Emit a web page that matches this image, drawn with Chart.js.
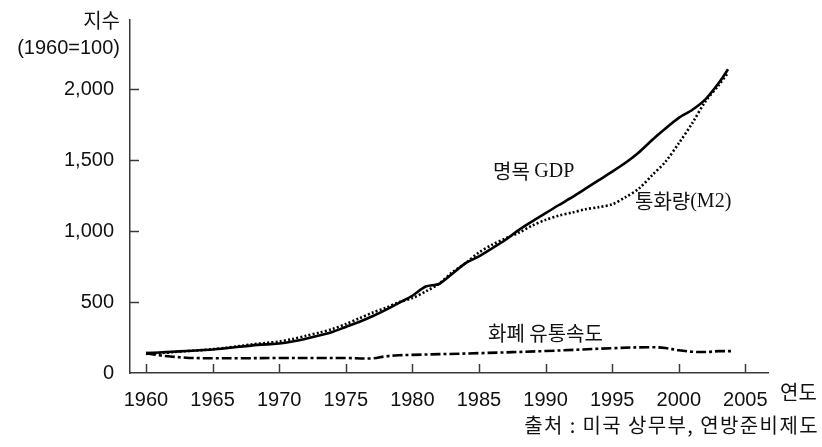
<!DOCTYPE html>
<html>
<head>
<meta charset="utf-8">
<script src="https://cdn.jsdelivr.net/npm/chart.js@4/dist/chart.umd.min.js"></script>
<style>
  body { margin: 0; background: #fff; }
  canvas { display: block; }
</style>
</head>
<body>
<canvas id="chart" width="822" height="447"></canvas>
<script>
// 연도 (GDP, M2 는 2003년 말께 끝남)
const yearsMain = [1960, 1961, 1962, 1963, 1964, 1965, 1966, 1967, 1968, 1969,
  1970, 1971, 1972, 1973, 1974, 1975, 1976, 1977, 1978, 1979,
  1980, 1981, 1982, 1983, 1984, 1985, 1986, 1987, 1988, 1989,
  1990, 1991, 1992, 1993, 1994, 1995, 1996, 1997, 1998, 1999,
  2000, 2001, 2002, 2003, 2003.7];

const gdp = [140, 145, 150, 155, 160, 166, 175, 185, 195, 202,
  208, 222, 242, 265, 290, 325, 360, 400, 445, 495,
  545, 610, 628, 700, 775, 822, 880, 940, 1010, 1070,
  1127, 1185, 1240, 1300, 1360, 1420, 1483, 1556, 1644, 1725,
  1800, 1855, 1930, 2045, 2142];

const m2 = [135, 140, 147, 154, 160, 168, 178, 190, 202, 212,
  222, 240, 262, 285, 310, 345, 385, 425, 460, 500,
  528, 575, 630, 710, 775, 850, 905, 950, 990, 1040,
  1080, 1110, 1132, 1155, 1170, 1190, 1240, 1300, 1395, 1490,
  1620, 1760, 1915, 2030, 2118];

const yearsVel = [1960, 1961, 1962, 1963, 1964, 1965, 1967, 1970, 1973, 1975,
  1977, 1978, 1979, 1980, 1985, 1990, 1995, 1998, 1999, 2000,
  2001, 2002, 2003, 2004.1];

const velocity = [140, 125, 115, 108, 105, 104, 104, 106, 106, 106,
  103, 118, 125, 128, 140, 155, 175, 182, 176, 160,
  150, 148, 154, 154];

const xTicks = [1960, 1965, 1970, 1975, 1980, 1985, 1990, 1995, 2000, 2005];
const yTicks = [0, 500, 1000, 1500, 2000];

const toPoints = (xs, ys) => xs.map((x, i) => ({ x: x, y: ys[i] }));

const AXIS_COLOR = '#3a3a3a';
const LABEL_FONT = { family: '"Liberation Sans", Arial, sans-serif', size: 20 };

// 안쪽으로 향하는 눈금과 주석 텍스트
const decorations = {
  id: 'decorations',
  afterDraw(chart) {
    const ctx = chart.ctx;
    const x = chart.scales.x;
    const y = chart.scales.y;
    const area = chart.chartArea;

    ctx.save();
    ctx.strokeStyle = AXIS_COLOR;
    ctx.lineWidth = 1.5;
    ctx.beginPath();
    xTicks.forEach(v => {
      const px = Math.round(x.getPixelForValue(v)) + 0.5;
      ctx.moveTo(px, area.bottom);
      ctx.lineTo(px, area.bottom - 9);
    });
    yTicks.forEach(v => {
      if (v === 0) return;
      const py = Math.round(y.getPixelForValue(v)) + 0.5;
      ctx.moveTo(area.left, py);
      ctx.lineTo(area.left + 9, py);
    });
    ctx.stroke();

    const kr = '20px "Noto Sans CJK KR", sans-serif';
    const serif = '20px "Liberation Serif", "Times New Roman", serif';
    ctx.fillStyle = '#111';
    ctx.textBaseline = 'middle';

    // 축 제목
    ctx.textAlign = 'right';
    ctx.font = kr;
    ctx.fillText('지수', 120, 20);
    ctx.font = '20px "Liberation Sans", Arial, sans-serif';
    ctx.fillText('(1960=100)', 120, 48);

    ctx.textAlign = 'left';
    ctx.font = kr;
    ctx.fillText('연도', 780, 392);

    // 계열 이름
    ctx.fillText('명목 ', 493, 171);
    let w = ctx.measureText('명목 ').width;
    ctx.font = serif;
    ctx.fillText('GDP', 493 + w, 172);

    ctx.font = kr;
    ctx.fillText('통화량', 635, 201);
    w = ctx.measureText('통화량').width;
    ctx.font = serif;
    ctx.fillText('(M2)', 635 + w, 202);

    ctx.font = kr;
    ctx.fillText('화폐 유통속도', 488, 333);

    // 출처
    ctx.textAlign = 'right';
    ctx.letterSpacing = '1.4px';
    ctx.fillText('출처 : 미국 상무부, 연방준비제도', 819, 425);
    ctx.restore();
  }
};

new Chart(document.getElementById('chart'), {
  type: 'line',
  data: {
    datasets: [
      {
        label: '명목 GDP',
        data: toPoints(yearsMain, gdp),
        borderColor: '#000',
        borderWidth: 2.6,
        tension: 0.25,
        pointRadius: 0
      },
      {
        label: '통화량(M2)',
        data: toPoints(yearsMain, m2),
        borderColor: '#000',
        borderWidth: 2.6,
        borderDash: [2, 2.2],
        tension: 0.3,
        pointRadius: 0
      },
      {
        label: '화폐 유통속도',
        data: toPoints(yearsVel, velocity),
        borderColor: '#000',
        borderWidth: 2.6,
        borderDash: [10, 3, 3, 3],
        tension: 0.35,
        pointRadius: 0
      }
    ]
  },
  options: {
    responsive: false,
    animation: false,
    devicePixelRatio: 1,
    layout: { padding: { left: 0, top: 13, right: 54, bottom: 0 } },
    plugins: {
      legend: { display: false },
      tooltip: { enabled: false }
    },
    scales: {
      x: {
        type: 'linear',
        min: 1958.8,
        max: 2006.7,
        afterBuildTicks: scale => { scale.ticks = xTicks.map(v => ({ value: v })); },
        afterFit: scale => { scale.height = 74; },
        grid: { display: false },
        border: { display: true, color: AXIS_COLOR, width: 1.5 },
        ticks: {
          color: '#111',
          font: LABEL_FONT,
          padding: 7,
          maxRotation: 0,
          autoSkip: false,
          callback: v => String(v)
        }
      },
      y: {
        min: 0,
        max: 2490,
        afterBuildTicks: scale => { scale.ticks = yTicks.map(v => ({ value: v })); },
        afterFit: scale => { scale.width = 130; },
        grid: { display: false },
        border: { display: true, color: AXIS_COLOR, width: 1.5 },
        ticks: {
          color: '#111',
          font: LABEL_FONT,
          padding: 8,
          callback: v => v.toLocaleString('en-US')
        }
      }
    }
  },
  plugins: [decorations]
});
</script>
</body>
</html>
